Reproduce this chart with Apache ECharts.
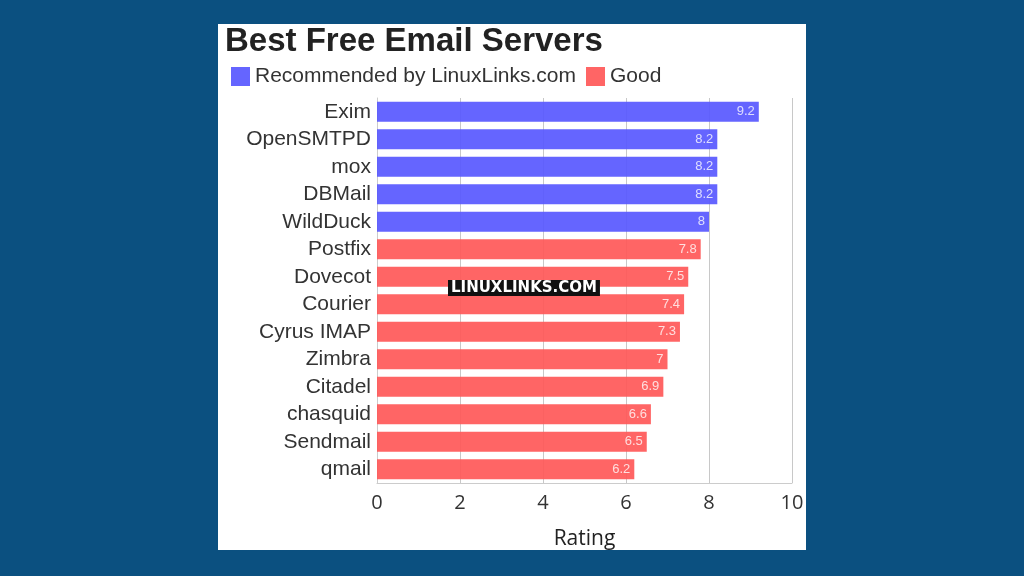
<!DOCTYPE html>
<html>
<head>
<meta charset="utf-8">
<script src="https://cdn.jsdelivr.net/npm/echarts@6/dist/echarts.min.js"></script>
<style>
  html, body { margin: 0; padding: 0; background: #0b5080; }
  #chart { width: 1024px; height: 576px; }
</style>
</head>
<body>
<div id="chart"></div>
<script>
// 分类与评分
const servers = ['Exim', 'OpenSMTPD', 'mox', 'DBMail', 'WildDuck', 'Postfix', 'Dovecot',
  'Courier', 'Cyrus IMAP', 'Zimbra', 'Citadel', 'chasquid', 'Sendmail', 'qmail']
const recommended = [9.2, 8.2, 8.2, 8.2, 8, null, null, null, null, null, null, null, null, null]
const good = [null, null, null, null, null, 7.8, 7.5, 7.4, 7.3, 7, 6.9, 6.6, 6.5, 6.2]
const xTicks = [0, 2, 4, 6, 8, 10]

const myChart = echarts.init(document.getElementById('chart'))

const barLabel = {
  show: true,
  position: 'insideRight',
  distance: 4,
  color: 'rgba(255,255,255,0.85)',
  fontSize: 13,
  fontFamily: 'Liberation Sans',
  formatter: p => (p.value == null ? '' : p.value)
}

const option = {
  animation: false,
  graphic: [
    {
      type: 'rect',
      shape: { x: 218, y: 24, width: 588, height: 526 },
      style: { fill: '#ffffff' },
      z: -10
    },
    {
      type: 'text',
      left: 225,
      top: 25,
      style: {
        text: 'Best Free Email Servers',
        font: 'bold 33px "Liberation Sans"',
        fill: '#222222'
      }
    },
    {
      type: 'text',
      left: 448,
      top: 280,
      z: 100,
      style: {
        text: 'LINUXLINKS.COM',
        font: 'bold 15px "DejaVu Sans"',
        fill: '#ffffff',
        backgroundColor: '#111111',
        padding: [1, 3, 0, 3]
      }
    }
  ],
  legend: {
    left: 226,
    top: 61,
    itemWidth: 19,
    itemHeight: 19,
    itemGap: 10,
    icon: 'rect',
    textStyle: { fontSize: 21, color: '#333', fontFamily: 'Liberation Sans' },
    data: ['Recommended by LinuxLinks.com', 'Good']
  },
  grid: {
    left: 377,
    right: 232,
    top: 98,
    height: 385
  },
  xAxis: {
    type: 'value',
    min: 0,
    max: 10,
    interval: 2,
    name: 'Rating',
    nameLocation: 'middle',
    nameGap: 46,
    nameTextStyle: { fontSize: 21, color: '#222', fontFamily: 'Open Sans' },
    axisLine: { show: true, lineStyle: { color: '#cccccc' } },
    axisTick: { show: false },
    axisLabel: {
      fontSize: 20, color: '#333', fontFamily: 'Open Sans', margin: 10,
      formatter: v => (xTicks.indexOf(v) >= 0 ? v : '')
    },
    splitLine: { show: true, lineStyle: { color: '#c8c8c8' } }
  },
  yAxis: {
    type: 'category',
    inverse: true,
    data: servers,
    axisLine: { show: true, lineStyle: { color: '#cccccc' } },
    axisTick: { show: false },
    axisLabel: { fontSize: 21, color: '#333', fontFamily: 'Liberation Sans', margin: 6 }
  },
  series: [
    {
      name: 'Recommended by LinuxLinks.com',
      type: 'bar',
      stack: 'all',
      barWidth: 20,
      itemStyle: { color: '#5858ff', opacity: 0.92 },
      label: barLabel,
      data: recommended
    },
    {
      name: 'Good',
      type: 'bar',
      stack: 'all',
      barWidth: 20,
      itemStyle: { color: '#ff5858', opacity: 0.92 },
      label: barLabel,
      data: good
    }
  ]
}

myChart.setOption(option)
</script>
</body>
</html>
